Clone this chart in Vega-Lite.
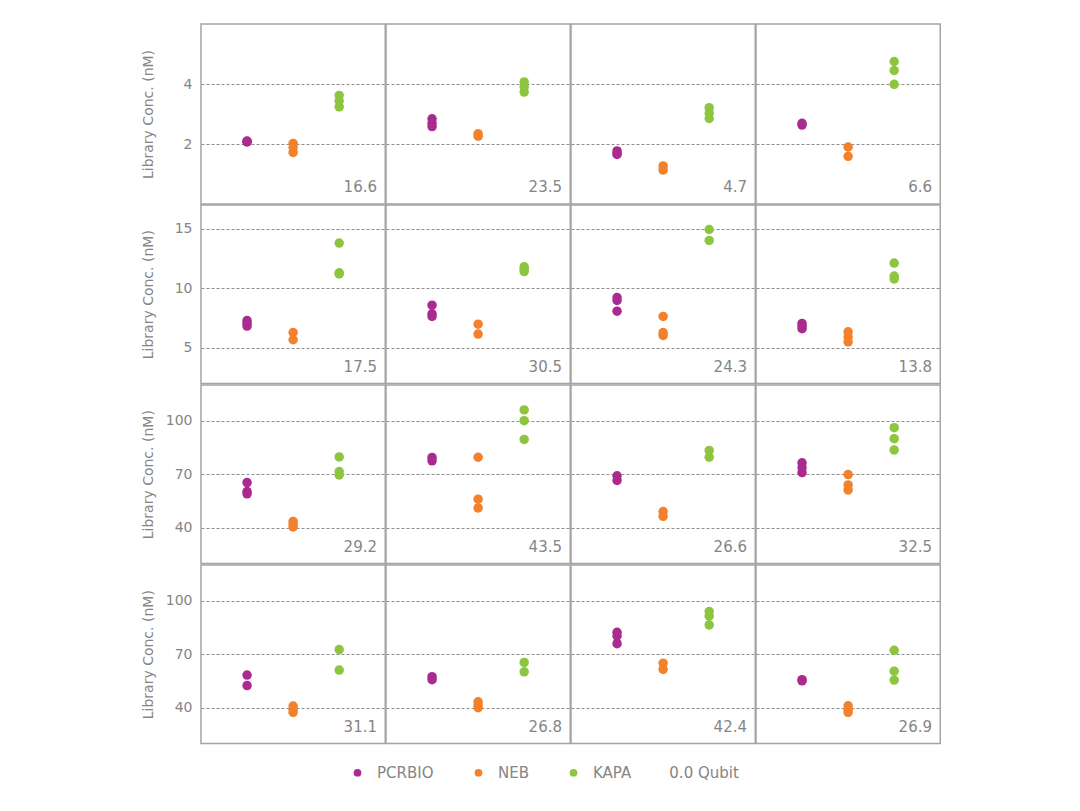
{
  "$schema": "https://vega.github.io/schema/vega-lite/v6.json",
  "padding": {"left": 141, "top": 23, "right": 5, "bottom": 5},
  "background": "white",
  "spacing": -2,
  "config": {
    "font": "DejaVu Sans",
    "view": {"stroke": "#a4a4a4", "strokeWidth": 1.5},
    "facet": {"spacing": 0},
    "axisY": {
      "domain": false, "ticks": false, "grid": true,
      "labelFontSize": 14, "labelColor": "#858585", "labelPadding": 9, "labelFont": "DejaVu Sans",
      "titleFontSize": 14, "titleFontWeight": "normal", "titleColor": "#858585", "titleFont": "DejaVu Sans",
      "titleX": -46, "titleY": 89.2,
      "gridColor": "#8f8f8f", "gridDash": [3, 2], "gridWidth": 1
    }
  },
  "datasets": {
    "all": [
      {"r":1,"c":1,"kit":"PCRBIO","conc":2.07},{"r":1,"c":1,"kit":"PCRBIO","conc":2.08},{"r":1,"c":1,"kit":"PCRBIO","conc":2.10},
      {"r":1,"c":1,"kit":"NEB","conc":2.02},{"r":1,"c":1,"kit":"NEB","conc":1.88},{"r":1,"c":1,"kit":"NEB","conc":1.72},
      {"r":1,"c":1,"kit":"KAPA","conc":3.62},{"r":1,"c":1,"kit":"KAPA","conc":3.44},{"r":1,"c":1,"kit":"KAPA","conc":3.24},
      {"r":1,"c":1,"qubit":16.6},
      {"r":1,"c":2,"kit":"PCRBIO","conc":2.84},{"r":1,"c":2,"kit":"PCRBIO","conc":2.69},{"r":1,"c":2,"kit":"PCRBIO","conc":2.58},
      {"r":1,"c":2,"kit":"NEB","conc":2.34},{"r":1,"c":2,"kit":"NEB","conc":2.26},
      {"r":1,"c":2,"kit":"KAPA","conc":4.07},{"r":1,"c":2,"kit":"KAPA","conc":3.90},{"r":1,"c":2,"kit":"KAPA","conc":3.73},
      {"r":1,"c":2,"qubit":23.5},
      {"r":1,"c":3,"kit":"PCRBIO","conc":1.77},{"r":1,"c":3,"kit":"PCRBIO","conc":1.68},{"r":1,"c":3,"kit":"PCRBIO","conc":1.65},
      {"r":1,"c":3,"kit":"NEB","conc":1.27},{"r":1,"c":3,"kit":"NEB","conc":1.13},
      {"r":1,"c":3,"kit":"KAPA","conc":3.21},{"r":1,"c":3,"kit":"KAPA","conc":3.03},{"r":1,"c":3,"kit":"KAPA","conc":2.85},
      {"r":1,"c":3,"qubit":4.7},
      {"r":1,"c":4,"kit":"PCRBIO","conc":2.69},{"r":1,"c":4,"kit":"PCRBIO","conc":2.63},
      {"r":1,"c":4,"kit":"NEB","conc":1.90},{"r":1,"c":4,"kit":"NEB","conc":1.59},
      {"r":1,"c":4,"kit":"KAPA","conc":4.75},{"r":1,"c":4,"kit":"KAPA","conc":4.45},{"r":1,"c":4,"kit":"KAPA","conc":3.99},
      {"r":1,"c":4,"qubit":6.6},

      {"r":2,"c":1,"kit":"PCRBIO","conc":7.29},{"r":2,"c":1,"kit":"PCRBIO","conc":7.05},{"r":2,"c":1,"kit":"PCRBIO","conc":6.82},
      {"r":2,"c":1,"kit":"NEB","conc":6.28},{"r":2,"c":1,"kit":"NEB","conc":5.67},
      {"r":2,"c":1,"kit":"KAPA","conc":13.8},{"r":2,"c":1,"kit":"KAPA","conc":11.3},{"r":2,"c":1,"kit":"KAPA","conc":11.2},
      {"r":2,"c":1,"qubit":17.5},
      {"r":2,"c":2,"kit":"PCRBIO","conc":8.58},{"r":2,"c":2,"kit":"PCRBIO","conc":7.85},{"r":2,"c":2,"kit":"PCRBIO","conc":7.63},
      {"r":2,"c":2,"kit":"NEB","conc":6.98},{"r":2,"c":2,"kit":"NEB","conc":6.15},
      {"r":2,"c":2,"kit":"KAPA","conc":11.8},{"r":2,"c":2,"kit":"KAPA","conc":11.6},{"r":2,"c":2,"kit":"KAPA","conc":11.4},
      {"r":2,"c":2,"qubit":30.5},
      {"r":2,"c":3,"kit":"PCRBIO","conc":9.22},{"r":2,"c":3,"kit":"PCRBIO","conc":8.97},{"r":2,"c":3,"kit":"PCRBIO","conc":8.07},
      {"r":2,"c":3,"kit":"NEB","conc":7.63},{"r":2,"c":3,"kit":"NEB","conc":6.28},{"r":2,"c":3,"kit":"NEB","conc":6.03},
      {"r":2,"c":3,"kit":"KAPA","conc":14.94},{"r":2,"c":3,"kit":"KAPA","conc":14.02},
      {"r":2,"c":3,"qubit":24.3},
      {"r":2,"c":4,"kit":"PCRBIO","conc":7.04},{"r":2,"c":4,"kit":"PCRBIO","conc":6.82},{"r":2,"c":4,"kit":"PCRBIO","conc":6.6},
      {"r":2,"c":4,"kit":"NEB","conc":6.34},{"r":2,"c":4,"kit":"NEB","conc":5.92},{"r":2,"c":4,"kit":"NEB","conc":5.5},
      {"r":2,"c":4,"kit":"KAPA","conc":12.12},{"r":2,"c":4,"kit":"KAPA","conc":11.03},{"r":2,"c":4,"kit":"KAPA","conc":10.78},
      {"r":2,"c":4,"qubit":13.8},

      {"r":3,"c":1,"kit":"PCRBIO","conc":65.3},{"r":3,"c":1,"kit":"PCRBIO","conc":60.3},{"r":3,"c":1,"kit":"PCRBIO","conc":59.0},
      {"r":3,"c":1,"kit":"NEB","conc":43.5},{"r":3,"c":1,"kit":"NEB","conc":41.7},{"r":3,"c":1,"kit":"NEB","conc":40.4},
      {"r":3,"c":1,"kit":"KAPA","conc":79.7},{"r":3,"c":1,"kit":"KAPA","conc":71.5},{"r":3,"c":1,"kit":"KAPA","conc":69.6},
      {"r":3,"c":1,"qubit":29.2},
      {"r":3,"c":2,"kit":"PCRBIO","conc":79.4},{"r":3,"c":2,"kit":"PCRBIO","conc":77.5},
      {"r":3,"c":2,"kit":"NEB","conc":79.5},{"r":3,"c":2,"kit":"NEB","conc":56.0},{"r":3,"c":2,"kit":"NEB","conc":51.1},
      {"r":3,"c":2,"kit":"KAPA","conc":106},{"r":3,"c":2,"kit":"KAPA","conc":100},{"r":3,"c":2,"kit":"KAPA","conc":89.5},
      {"r":3,"c":2,"qubit":43.5},
      {"r":3,"c":3,"kit":"PCRBIO","conc":69.1},{"r":3,"c":3,"kit":"PCRBIO","conc":66.5},
      {"r":3,"c":3,"kit":"NEB","conc":49.1},{"r":3,"c":3,"kit":"NEB","conc":46.4},
      {"r":3,"c":3,"kit":"KAPA","conc":83.3},{"r":3,"c":3,"kit":"KAPA","conc":79.5},
      {"r":3,"c":3,"qubit":26.6},
      {"r":3,"c":4,"kit":"PCRBIO","conc":76.4},{"r":3,"c":4,"kit":"PCRBIO","conc":73.7},{"r":3,"c":4,"kit":"PCRBIO","conc":70.9},
      {"r":3,"c":4,"kit":"NEB","conc":69.8},{"r":3,"c":4,"kit":"NEB","conc":64.0},{"r":3,"c":4,"kit":"NEB","conc":61.2},
      {"r":3,"c":4,"kit":"KAPA","conc":96.1},{"r":3,"c":4,"kit":"KAPA","conc":89.9},{"r":3,"c":4,"kit":"KAPA","conc":83.6},
      {"r":3,"c":4,"qubit":32.5},

      {"r":4,"c":1,"kit":"PCRBIO","conc":58.3},{"r":4,"c":1,"kit":"PCRBIO","conc":52.4},
      {"r":4,"c":1,"kit":"NEB","conc":40.9},{"r":4,"c":1,"kit":"NEB","conc":39.1},{"r":4,"c":1,"kit":"NEB","conc":37.4},
      {"r":4,"c":1,"kit":"KAPA","conc":72.6},{"r":4,"c":1,"kit":"KAPA","conc":61.1},
      {"r":4,"c":1,"qubit":31.1},
      {"r":4,"c":2,"kit":"PCRBIO","conc":57.4},{"r":4,"c":2,"kit":"PCRBIO","conc":55.7},
      {"r":4,"c":2,"kit":"NEB","conc":43.3},{"r":4,"c":2,"kit":"NEB","conc":41.5},{"r":4,"c":2,"kit":"NEB","conc":40.0},
      {"r":4,"c":2,"kit":"KAPA","conc":65.4},{"r":4,"c":2,"kit":"KAPA","conc":60.1},
      {"r":4,"c":2,"qubit":26.8},
      {"r":4,"c":3,"kit":"PCRBIO","conc":82.3},{"r":4,"c":3,"kit":"PCRBIO","conc":80.2},{"r":4,"c":3,"kit":"PCRBIO","conc":75.9},
      {"r":4,"c":3,"kit":"NEB","conc":65.0},{"r":4,"c":3,"kit":"NEB","conc":61.5},
      {"r":4,"c":3,"kit":"KAPA","conc":93.9},{"r":4,"c":3,"kit":"KAPA","conc":91.3},{"r":4,"c":3,"kit":"KAPA","conc":86.4},
      {"r":4,"c":3,"qubit":42.4},
      {"r":4,"c":4,"kit":"PCRBIO","conc":55.7},{"r":4,"c":4,"kit":"PCRBIO","conc":55.1},
      {"r":4,"c":4,"kit":"NEB","conc":41.1},{"r":4,"c":4,"kit":"NEB","conc":39.2},{"r":4,"c":4,"kit":"NEB","conc":37.4},
      {"r":4,"c":4,"kit":"KAPA","conc":72.2},{"r":4,"c":4,"kit":"KAPA","conc":60.5},{"r":4,"c":4,"kit":"KAPA","conc":55.5},
      {"r":4,"c":4,"qubit":26.9}
    ]
  },
  "resolve": {"scale": {"y": "independent", "x": "independent", "color": "shared"}},
  "vconcat": [
    {
      "data": {"name": "all"},
      "transform": [{"filter": "datum.r == 1"}],
      "facet": {"column": {"field": "c", "type": "ordinal", "header": null}},
      "spacing": 0,
      "bounds": "flush",
      "spec": {
        "width": 184.25, "height": 180,
        "layer": [
          {
            "transform": [{"filter": "isValid(datum.conc)"}],
            "mark": {"type": "circle", "size": 90, "opacity": 1},
            "encoding": {
              "x": {"field": "kit", "type": "nominal", "sort": ["PCRBIO", "NEB", "KAPA"], "scale": {"type": "point", "padding": 1}, "axis": null},
              "y": {"field": "conc", "type": "quantitative", "scale": {"domain": [0, 6], "nice": false, "zero": false}, "axis": {"values": [2, 4], "title": "Library Conc. (nM)", "titleY": 90}},
              "color": {"field": "kit", "type": "nominal",
                "scale": {"domain": ["PCRBIO", "NEB", "KAPA"], "range": ["#AA2A8F", "#F3802B", "#8DC540"]},
                "legend": {"title": null, "orient": "none", "direction": "horizontal", "legendX": 149, "legendY": 741,
                  "symbolType": "circle", "symbolSize": 60, "labelFontSize": 15, "labelColor": "#858585", "labelOffset": 12, "columnPadding": 37,
                  "labelFont": "DejaVu Sans", "labelLimit": 400,
                  "labelExpr": "datum.label == 'KAPA' ? 'KAPA\u00a0\u00a0\u00a0\u00a0\u00a0\u00a0\u00a0\u00a00.0\u00a0Qubit' : datum.label"}}
            }
          },
          {
            "transform": [{"filter": "isValid(datum.qubit)"}],
            "mark": {"type": "text", "x": 176, "y": 163, "align": "right", "baseline": "middle", "fontSize": 15, "color": "#858585"},
            "encoding": {"text": {"field": "qubit", "type": "quantitative", "format": ".1f"}}
          }
        ]
      }
    },
    {
      "data": {"name": "all"},
      "transform": [{"filter": "datum.r == 2"}],
      "facet": {"column": {"field": "c", "type": "ordinal", "header": null}},
      "spacing": 0,
      "bounds": "flush",
      "spec": {
        "width": 184.25, "height": 178.4,
        "layer": [
          {
            "transform": [{"filter": "isValid(datum.conc)"}],
            "mark": {"type": "circle", "size": 90, "opacity": 1},
            "encoding": {
              "x": {"field": "kit", "type": "nominal", "sort": ["PCRBIO", "NEB", "KAPA"], "scale": {"type": "point", "padding": 1}, "axis": null},
              "y": {"field": "conc", "type": "quantitative", "scale": {"domain": [2, 17], "nice": false, "zero": false}, "axis": {"values": [5, 10, 15], "title": "Library Conc. (nM)"}},
              "color": {"field": "kit", "type": "nominal"}
            }
          },
          {
            "transform": [{"filter": "isValid(datum.qubit)"}],
            "mark": {"type": "text", "x": 176, "y": 161.5, "align": "right", "baseline": "middle", "fontSize": 15, "color": "#858585"},
            "encoding": {"text": {"field": "qubit", "type": "quantitative", "format": ".1f"}}
          }
        ]
      }
    },
    {
      "data": {"name": "all"},
      "transform": [{"filter": "datum.r == 3"}],
      "facet": {"column": {"field": "c", "type": "ordinal", "header": null}},
      "spacing": 0,
      "bounds": "flush",
      "spec": {
        "width": 184.25, "height": 178.4,
        "layer": [
          {
            "transform": [{"filter": "isValid(datum.conc)"}],
            "mark": {"type": "circle", "size": 90, "opacity": 1},
            "encoding": {
              "x": {"field": "kit", "type": "nominal", "sort": ["PCRBIO", "NEB", "KAPA"], "scale": {"type": "point", "padding": 1}, "axis": null},
              "y": {"field": "conc", "type": "quantitative", "scale": {"domain": [20, 120], "nice": false, "zero": false}, "axis": {"values": [40, 70, 100], "title": "Library Conc. (nM)"}},
              "color": {"field": "kit", "type": "nominal"}
            }
          },
          {
            "transform": [{"filter": "isValid(datum.qubit)"}],
            "mark": {"type": "text", "x": 176, "y": 161.5, "align": "right", "baseline": "middle", "fontSize": 15, "color": "#858585"},
            "encoding": {"text": {"field": "qubit", "type": "quantitative", "format": ".1f"}}
          }
        ]
      }
    },
    {
      "data": {"name": "all"},
      "transform": [{"filter": "datum.r == 4"}],
      "facet": {"column": {"field": "c", "type": "ordinal", "header": null}},
      "spacing": 0,
      "bounds": "flush",
      "spec": {
        "width": 184.25, "height": 178.4,
        "layer": [
          {
            "transform": [{"filter": "isValid(datum.conc)"}],
            "mark": {"type": "circle", "size": 90, "opacity": 1},
            "encoding": {
              "x": {"field": "kit", "type": "nominal", "sort": ["PCRBIO", "NEB", "KAPA"], "scale": {"type": "point", "padding": 1}, "axis": null},
              "y": {"field": "conc", "type": "quantitative", "scale": {"domain": [20, 120], "nice": false, "zero": false}, "axis": {"values": [40, 70, 100], "title": "Library Conc. (nM)"}},
              "color": {"field": "kit", "type": "nominal"}
            }
          },
          {
            "transform": [{"filter": "isValid(datum.qubit)"}],
            "mark": {"type": "text", "x": 176, "y": 161.5, "align": "right", "baseline": "middle", "fontSize": 15, "color": "#858585"},
            "encoding": {"text": {"field": "qubit", "type": "quantitative", "format": ".1f"}}
          }
        ]
      }
    }
  ]
}
